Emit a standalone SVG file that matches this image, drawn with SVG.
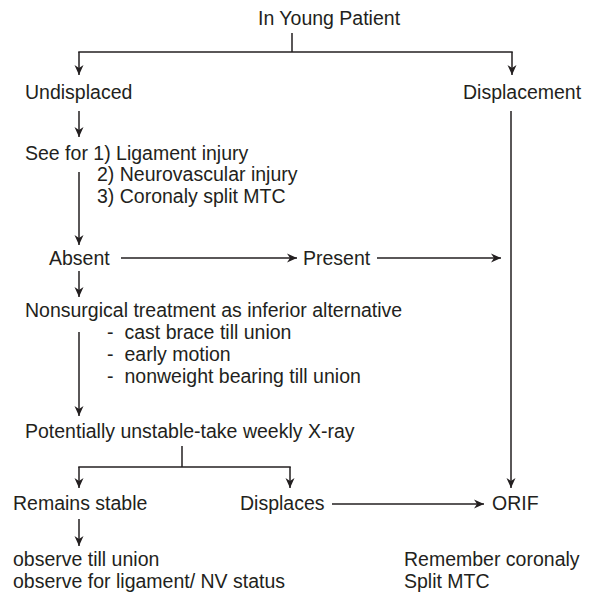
<svg xmlns="http://www.w3.org/2000/svg" width="592" height="595" viewBox="0 0 592 595">
<style>
text{font-family:"Liberation Sans",Arial,sans-serif;font-size:19.5px;fill:#231f20}
.c line{stroke:#231f20;stroke-width:1.5;fill:none}
</style>
<defs>
<marker id="ah" viewBox="0 0 10 10" refX="10" refY="5" markerWidth="12" markerHeight="10" markerUnits="userSpaceOnUse" orient="auto">
<path d="M0,0.5 L10,5 L0,9.5 L3,5 z" fill="#231f20"/>
</marker>
</defs>
<rect width="592" height="595" fill="#fff"/>
<g id="n-young"><text x="258" y="25">In Young Patient</text></g>
<g id="n-undisplaced"><text x="25" y="99">Undisplaced</text></g>
<g id="n-displacement"><text x="463" y="99">Displacement</text></g>
<g id="n-seefor">
<text x="25" y="160">See for 1) Ligament injury</text>
<text x="97" y="181">2) Neurovascular injury</text>
<text x="97" y="203">3) Coronaly split MTC</text>
</g>
<g id="n-absent"><text x="49" y="265">Absent</text></g>
<g id="n-present"><text x="303" y="265">Present</text></g>
<g id="n-nonsurgical">
<text x="25" y="317">Nonsurgical treatment as inferior alternative</text>
<text x="107" y="339">-</text><text x="124.5" y="339">cast brace till union</text>
<text x="107" y="361">-</text><text x="124.5" y="361">early motion</text>
<text x="107" y="383">-</text><text x="124.5" y="383">nonweight bearing till union</text>
</g>
<g id="n-potential"><text x="25" y="438">Potentially unstable-take weekly X-ray</text></g>
<g id="n-stable"><text x="13" y="510">Remains stable</text></g>
<g id="n-displaces"><text x="240" y="510">Displaces</text></g>
<g id="n-orif"><text x="492" y="510">ORIF</text></g>
<g id="n-observe">
<text x="13" y="566">observe till union</text>
<text x="13" y="588">observe for ligament/ NV status</text>
</g>
<g id="n-remember">
<text x="404" y="566">Remember coronaly</text>
<text x="404" y="588">Split MTC</text>
</g>
<g class="c" id="connectors">
<line x1="292" y1="33" x2="292" y2="52"/>
<line x1="78.25" y1="52" x2="512.75" y2="52"/>
<line x1="79" y1="52" x2="79" y2="75" marker-end="url(#ah)"/>
<line x1="512" y1="52" x2="512" y2="75" marker-end="url(#ah)"/>
<line x1="79" y1="111" x2="79" y2="137" marker-end="url(#ah)"/>
<line x1="79" y1="172" x2="79" y2="245" marker-end="url(#ah)"/>
<line x1="121" y1="258" x2="297" y2="258" marker-end="url(#ah)"/>
<line x1="377" y1="258" x2="501" y2="258" marker-end="url(#ah)"/>
<line x1="511" y1="111" x2="511" y2="488" marker-end="url(#ah)"/>
<line x1="79" y1="271" x2="79" y2="297" marker-end="url(#ah)"/>
<line x1="79" y1="332" x2="79" y2="416" marker-end="url(#ah)"/>
<line x1="182" y1="446" x2="182" y2="467"/>
<line x1="78.25" y1="467" x2="290.75" y2="467"/>
<line x1="79" y1="467" x2="79" y2="488" marker-end="url(#ah)"/>
<line x1="290" y1="467" x2="290" y2="488" marker-end="url(#ah)"/>
<line x1="332" y1="504" x2="484" y2="504" marker-end="url(#ah)"/>
<line x1="79" y1="519" x2="79" y2="546" marker-end="url(#ah)"/>
</g>
</svg>
